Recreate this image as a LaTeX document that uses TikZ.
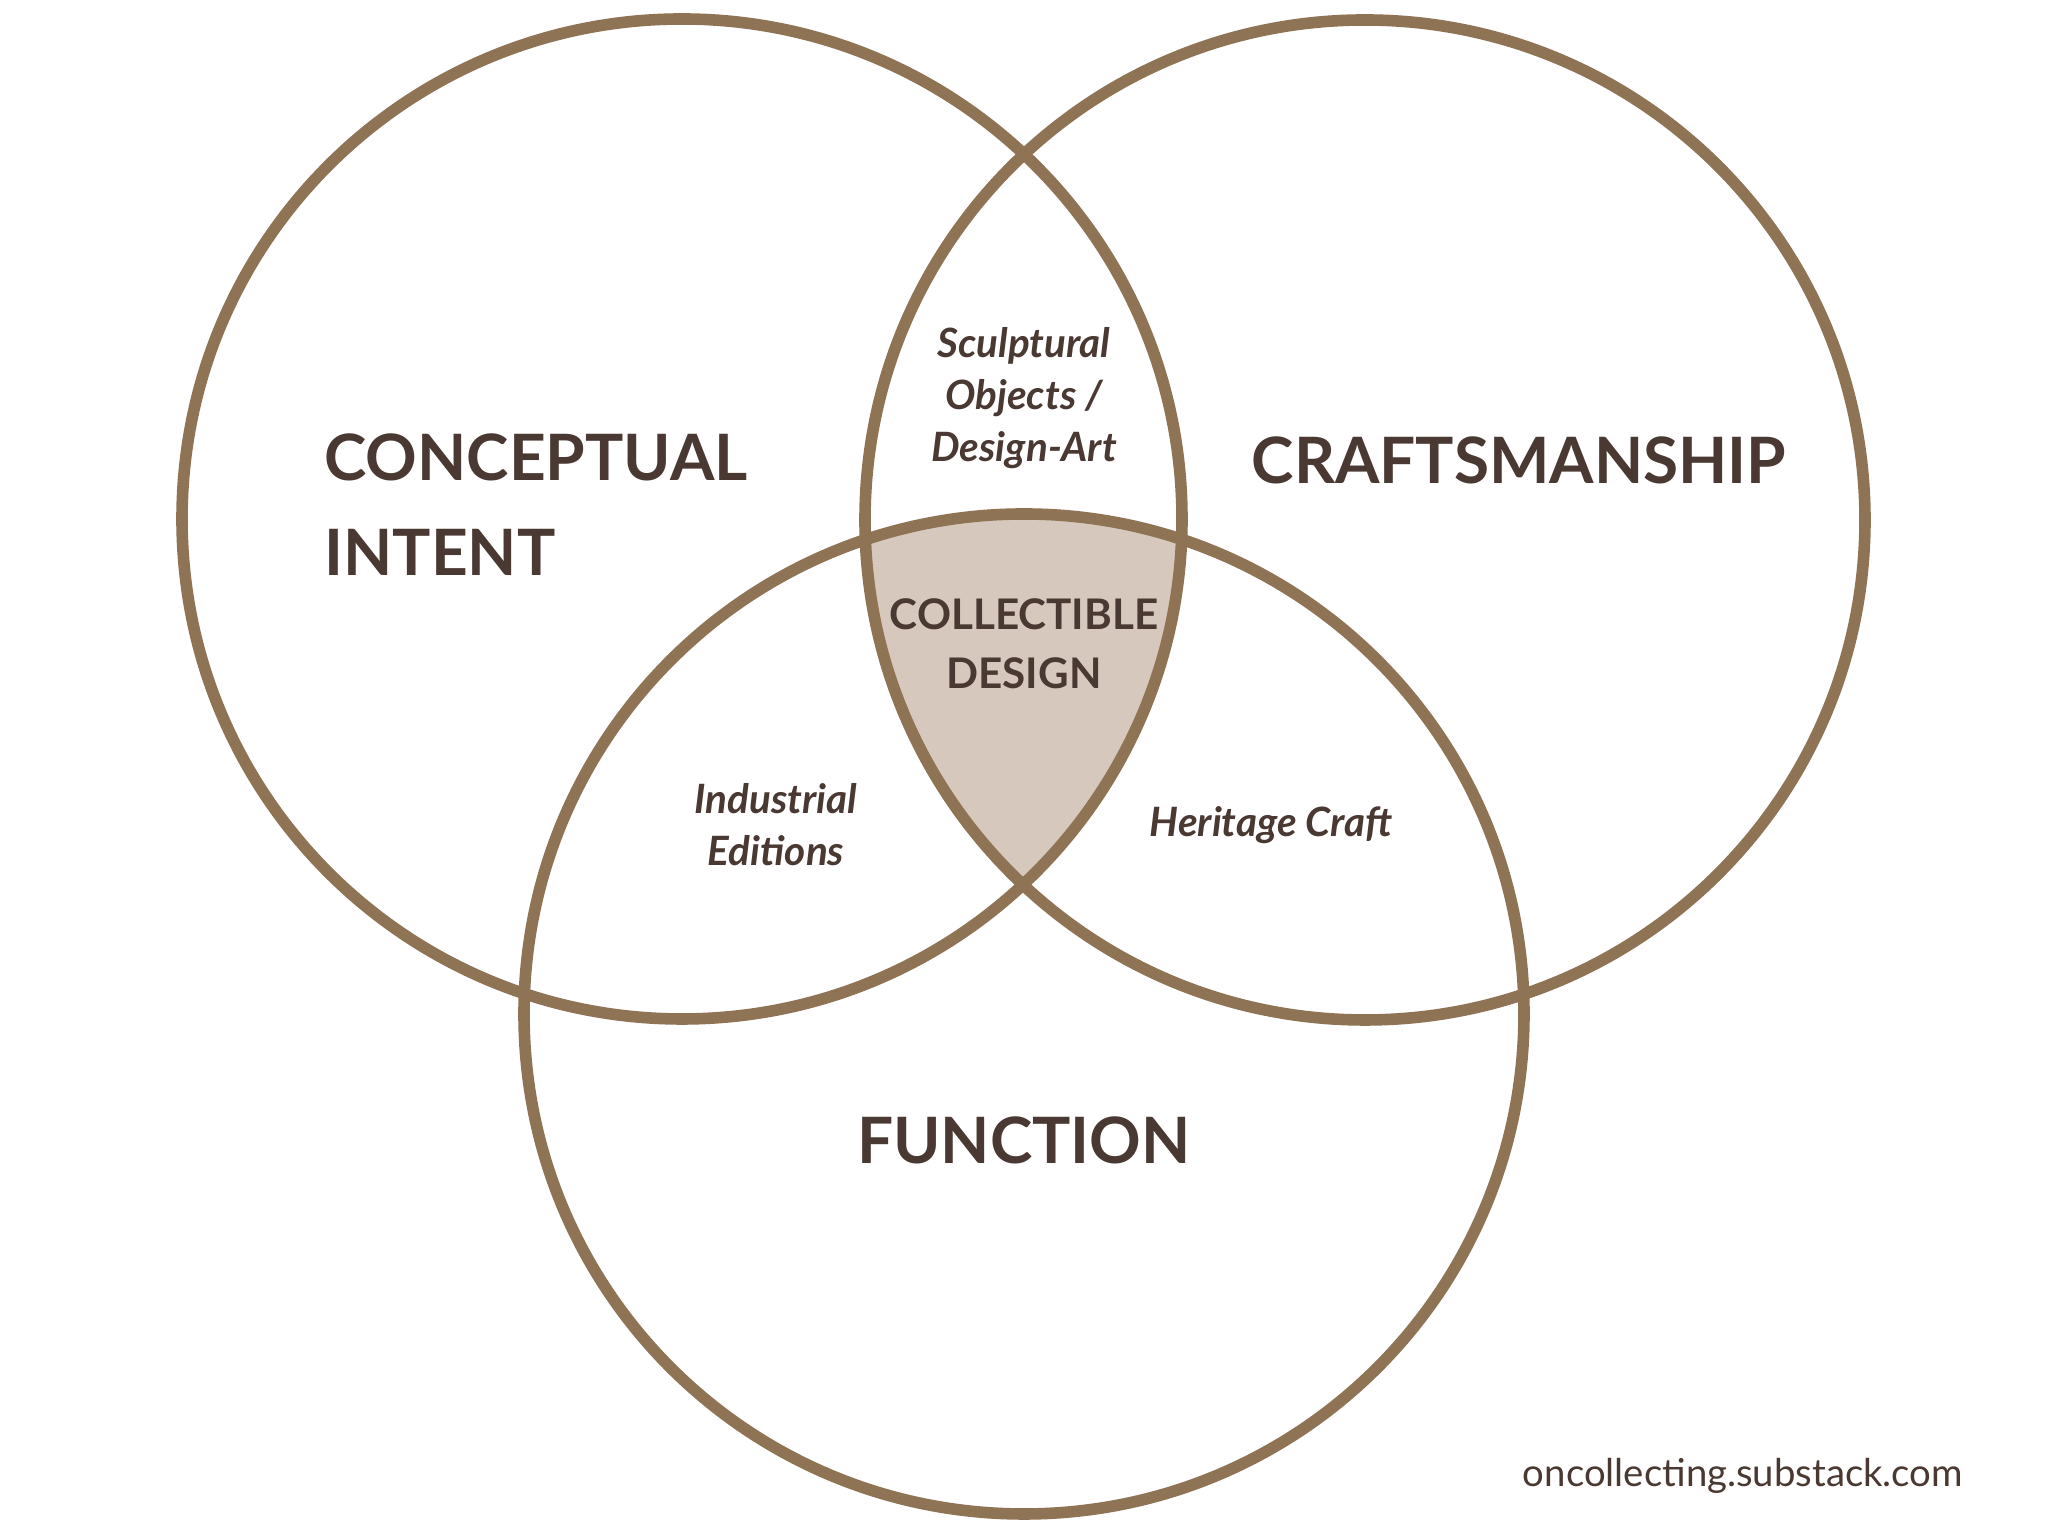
\documentclass[tikz,border=0pt]{standalone}
\usepackage{fontspec}
\setmainfont{Lato}
\usepackage{xcolor}
\usepackage{tikz}
\definecolor{ringbrown}{RGB}{142, 115, 85}
\definecolor{textbrown}{RGB}{74, 57, 50}
\definecolor{corefill}{RGB}{214, 200, 188}

\begin{document}
\begin{tikzpicture}[
  ring/.style={circle, draw=ringbrown, line width=3.3pt, minimum size=10cm, inner sep=0pt},
  bigset/.style={align=left, font=\fontsize{18.2}{25}\selectfont\bfseries, text=textbrown},
  core/.style={align=center, font=\fontsize{12}{16.8}\selectfont\bfseries, text=textbrown},
  overlap/.style={align=center, font=\fontsize{11.5}{14.8}\selectfont\bfseries\itshape, text=textbrown},
  credit/.style={font=\fontsize{10.9}{13}\selectfont, text=textbrown}
]
  \fill[white] (0,0) rectangle (20.48,15.36);
  \useasboundingbox (0,0) rectangle (20.48,15.36);

  % shaded centre of the three sets
  \begin{scope}
    \clip (6.82,10.17) circle (5cm);
    \clip (13.65,10.16) circle (5cm);
    \fill[corefill] (10.24,5.22) circle (5cm);
  \end{scope}

  \node[ring] (intent) at (6.82,10.17) {};
  \node[ring] (craft) at (13.65,10.16) {};
  \node[ring] (function) at (10.24,5.22) {};

  \node[bigset, anchor=west] (intentlbl) at (3.12,10.31) {CONCEPTUAL\\[2pt]INTENT};
  \node[bigset] (craftlbl) at (15.19,10.76) {CRAFTSMANSHIP};
  \node[bigset] (functionlbl) at (10.24,3.96) {FUNCTION};

  \node[core] (collectible) at (10.24,8.92) {COLLECTIBLE\\DESIGN};
  \node[overlap] (sculptural) at (10.24,11.38) {Sculptural\\Objects /\\Design-Art};
  \node[overlap] (industrial) at (7.76,7.11) {Industrial\\Editions};
  \node[overlap] (heritage) at (12.71,7.11) {Heritage Craft};

  \node[credit] (site) at (17.43,0.60) {oncollecting.substack.com};
\end{tikzpicture}
\end{document}
